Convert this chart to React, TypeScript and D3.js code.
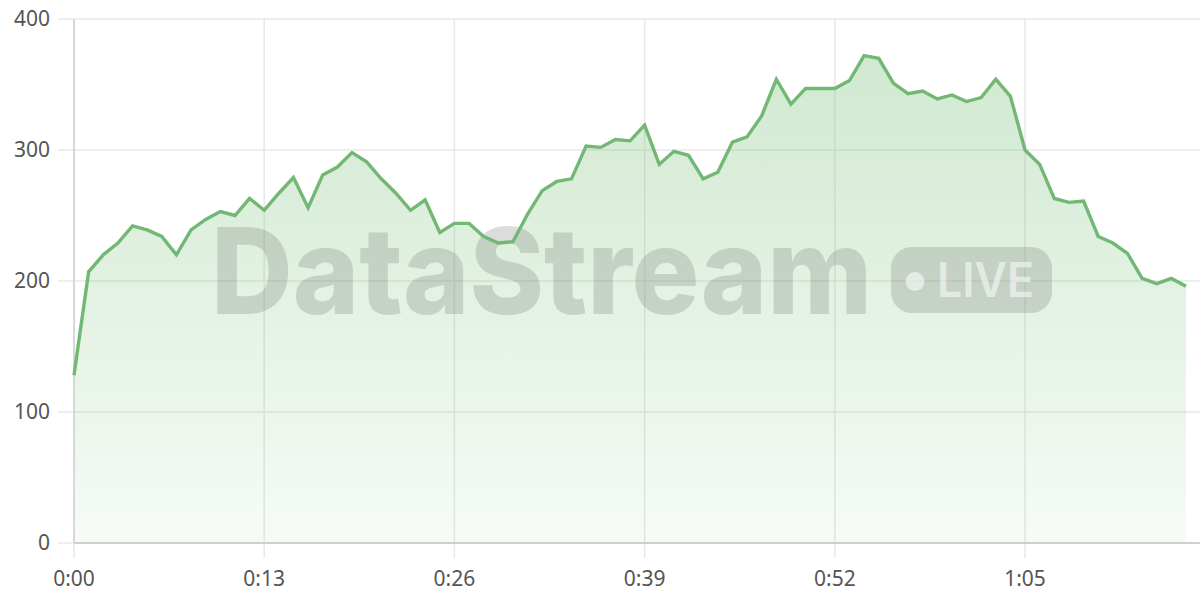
import React from "react";
import * as d3 from "d3";

const seconds: number[] = Array.from({ length: 77 }, (_, i) => i);
const values: number[] = [
  128, 207, 220, 229, 242, 239, 234, 220, 239, 247,
  253, 250, 263, 254, 267, 279, 256, 281, 287, 298,
  291, 278, 267, 254, 262, 237, 244, 244, 234, 229,
  230, 251, 269, 276, 278, 303, 302, 308, 307, 319,
  289, 299, 296, 278, 283, 306, 310, 326, 354, 335,
  347, 347, 347, 353, 372, 370, 351, 343, 345, 339,
  342, 337, 340, 354, 341, 300, 289, 263, 260, 261,
  234, 229, 221, 202, 198, 202, 196,
];
const xTicks: number[] = [0, 13, 26, 39, 52, 65];
const yTicks: number[] = [0, 100, 200, 300, 400];

const W = 1200;
const H = 600;
const left = 74;
const right = 1200;
const top = 19;
const bottom = 543;

const fmt = (s: number) => `${Math.floor(s / 60)}:${String(s % 60).padStart(2, "0")}`;

export default function App() {
  const x = d3.scaleLinear().domain([0, 76]).range([left, 1186]);
  const y = d3.scaleLinear().domain([0, 400]).range([bottom, top]);
  const pts = seconds.map((s, i) => [s, values[i]] as [number, number]);
  const line = d3.line<[number, number]>().x((d) => x(d[0])).y((d) => y(d[1]))(pts) || "";
  const area =
    d3
      .area<[number, number]>()
      .x((d) => x(d[0]))
      .y0(y(0))
      .y1((d) => y(d[1]))(pts) || "";
  const font = "'Noto Sans', 'Open Sans', sans-serif";
  const wm = "rgba(110,115,110,0.25)";
  return (
    <svg
      width={W}
      height={H}
      style={{ position: "absolute", left: 0, top: 0, background: "#fff" }}
    >
      <defs>
        <linearGradient id="ag" x1="0" y1={y(372)} x2="0" y2={bottom} gradientUnits="userSpaceOnUse">
          <stop offset="0" stopColor="#6cba6e" stopOpacity={0.32} />
          <stop offset="1" stopColor="#6cba6e" stopOpacity={0.06} />
        </linearGradient>
      </defs>
      {yTicks.map((t) => (
        <g key={"y" + t}>
          <line x1={58} x2={right} y1={y(t)} y2={y(t)} stroke="#e8e8e8" strokeWidth={1.5} />
          <text
            x={50}
            y={y(t)}
            dy="0.35em"
            textAnchor="end"
            fontFamily={font}
            fontSize={21}
            fill="#555"
          >
            {t}
          </text>
        </g>
      ))}
      {xTicks.map((t) => (
        <g key={"x" + t}>
          <line x1={x(t)} x2={x(t)} y1={top} y2={558} stroke="#e8e8e8" strokeWidth={1.5} />
          <text
            x={x(t)}
            y={579}
            dy="0.35em"
            textAnchor="middle"
            fontFamily={font}
            fontSize={21}
            fill="#555"
          >
            {fmt(t)}
          </text>
        </g>
      ))}
      <path d={area} fill="url(#ag)" />
      <g>
        <text
          x={211}
          y={314}
          fontFamily="Inter, 'DejaVu Sans', sans-serif"
          fontWeight={800}
          fontSize={120}
          fill={wm}
          textLength={661}
          lengthAdjust="spacingAndGlyphs"
        >
          DataStream
        </text>
        <rect x={891} y={247} width={161} height={66} rx={21} fill={wm} />
        <circle cx={915} cy={281.5} r={9.5} fill="rgba(255,255,255,0.55)" />
        <text
          x={937}
          y={297}
          fontFamily="Inter, 'DejaVu Sans', sans-serif"
          fontWeight={600}
          fontSize={48}
          fill="rgba(255,255,255,0.55)"
          textLength={97}
          lengthAdjust="spacingAndGlyphs"
        >
          LIVE
        </text>
      </g>
      <line x1={left} x2={left} y1={top} y2={bottom} stroke="#d0d0d0" strokeWidth={1.5} />
      <line x1={left} x2={right} y1={bottom} y2={bottom} stroke="#cfcfcf" strokeWidth={2} />
      <path d={line} fill="none" stroke="#72b874" strokeWidth={3.4} strokeLinejoin="miter" />
    </svg>
  );
}
